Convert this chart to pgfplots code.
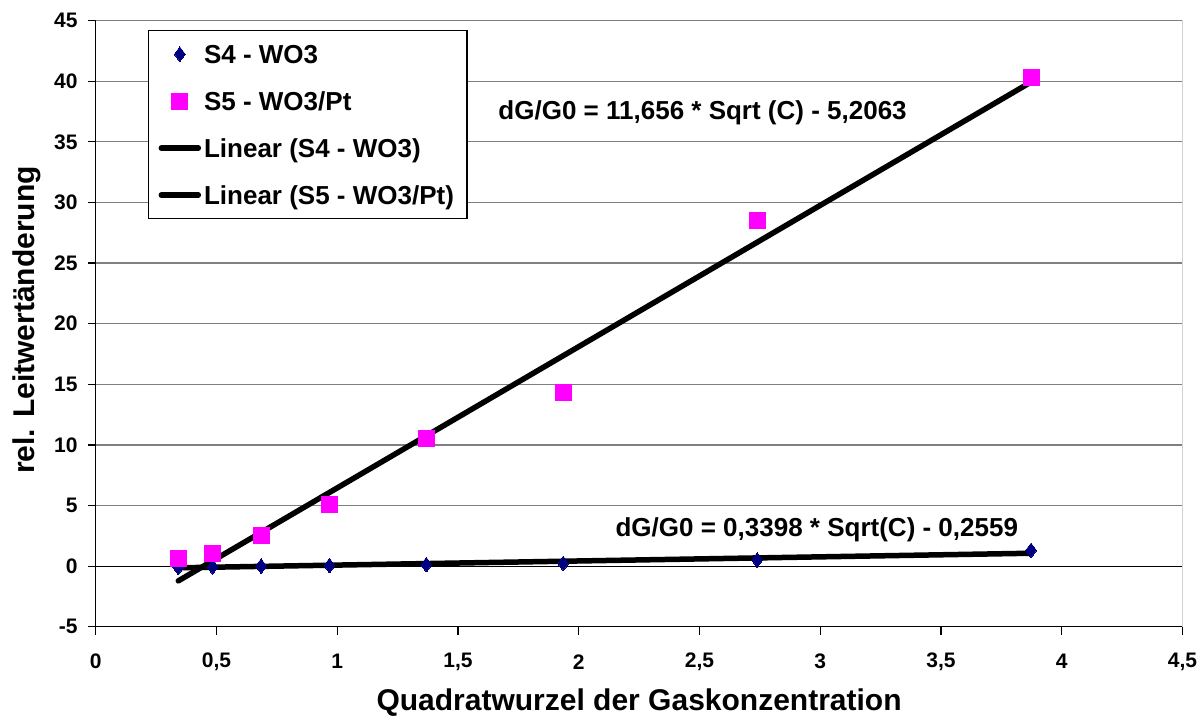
\documentclass[border=0pt]{standalone}
\usepackage{fontspec}
\setmainfont{Liberation Sans}
\usepackage{pgfplots}
\pgfplotsset{compat=1.18}
\definecolor{s4col}{RGB}{0,0,128}
\definecolor{s5col}{RGB}{255,0,255}
\definecolor{gridgray}{RGB}{128,128,128}
\pgfplotstableread{
x y
0.342 -0.10
0.484 -0.06
0.685 0.00
0.968 0.05
1.369 0.12
1.936 0.22
2.739 0.50
3.873 1.30
}\sfour
\pgfplotstableread{
x y
0.342 0.6
0.484 1.0
0.685 2.5
0.968 5.1
1.369 10.5
1.936 14.3
2.739 28.5
3.873 40.3
}\sfive
\begin{document}
\begin{tikzpicture}[x=1pt,y=1pt]
\path (0,0) rectangle (1204,719);
\begin{axis}[
  at={(95.7pt,92.3pt)}, anchor=south west,
  scale only axis, width=1086.8pt, height=606pt,
  xmin=0, xmax=4.5, ymin=-5, ymax=45,
  xtick={0,0.5,...,4.5}, ytick={-5,0,...,45},
  axis x line*=bottom, axis y line*=left,
  axis line style={black, line width=1.2pt, -},
  tick align=outside, major tick length=8pt,
  tick style={black, line width=1.2pt},
  ymajorgrids, major grid style={gridgray, line width=1.2pt},
  /pgf/number format/use comma, /pgf/number format/assume math mode=true,
  ticklabel style={font=\bfseries\fontsize{21}{25}\selectfont},
  xticklabel style={anchor=center, yshift=-27pt},
  yticklabel style={anchor=east, inner sep=0pt, xshift=-10pt},
  xlabel={Quadratwurzel der Gaskonzentration},
  ylabel={rel. Leitwertänderung},
  label style={font=\bfseries\fontsize{30}{36}\selectfont},
  xlabel style={at={(axis description cs:0.5,-0.1259)}, anchor=center},
  ylabel style={at={(axis description cs:-0.0632,0.506)}, anchor=center, rotate=0},
  legend cell align=left,
  legend image code/.code={\draw[mark repeat=2,mark phase=2,#1] plot coordinates {(0pt,0pt) (18.5pt,0pt) (37pt,0pt)};},
  legend style={at={(axis description cs:0.0481,0.9846)}, anchor=north west,
    draw=black, line width=1.2pt, fill=white,
    font=\bfseries\fontsize{26}{31}\selectfont,
    inner xsep=10pt, inner ysep=14pt, row sep=28pt,
    nodes={inner xsep=3pt, inner ysep=0pt, text height=19pt, text depth=0pt}},
]
\draw[black, line width=1.2pt] (axis cs:0,0) -- (axis cs:4.5,0);
\draw[gridgray, line width=1.2pt] (rel axis cs:0,1) -- (rel axis cs:1,1) -- (rel axis cs:1,0);
\addplot[only marks, mark=diamond*, mark size=7.3pt, mark options={fill=s4col, draw=s4col, line width=0pt}] table[x=x,y=y] {\sfour};
\addlegendentry{S4 - WO3}
\addplot[only marks, mark=square*, mark size=8pt, mark options={fill=s5col, draw=s5col, line width=0pt}] table[x=x,y=y] {\sfive};
\addlegendentry{S5 - WO3/Pt}
\addplot[black, line width=5.5pt, line cap=round] coordinates {(0.342,-0.140) (3.873,1.060)};
\addlegendentry{Linear (S4 - WO3)}
\addplot[black, line width=5.5pt, line cap=round] coordinates {(0.342,-1.220) (3.873,39.938)};
\addlegendentry{Linear (S5 - WO3/Pt)}
\node[font=\bfseries\fontsize{26}{31}\selectfont] at (axis cs:2.513,37.38) {dG/G0 = 11,656 * Sqrt (C) - 5,2063};
\node[font=\bfseries\fontsize{26}{31}\selectfont] at (axis cs:2.986,2.98) {dG/G0 = 0,3398 * Sqrt(C) - 0,2559};
\end{axis}
\end{tikzpicture}
\end{document}
